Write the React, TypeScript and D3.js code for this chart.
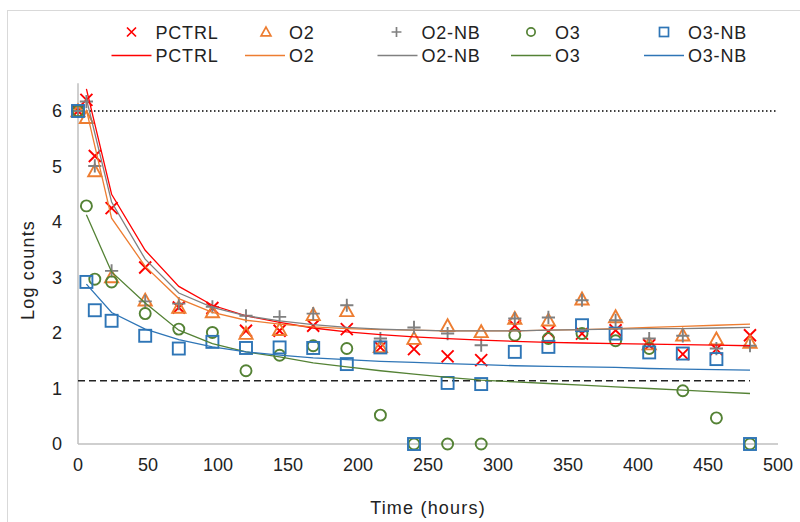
import React from "react";
import * as d3 from "d3";

// ---- data ----
const times = [0, 6, 12, 24, 48, 72, 96, 120, 144, 168, 192, 216, 240, 264, 288, 312, 336, 360, 384, 408, 432, 456, 480];
const pctrl = [6.0, 6.2, 5.19, 4.25, 3.18, 2.46, 2.45, 2.04, 2.04, 2.13, 2.07, 1.74, 1.71, 1.58, 1.51, 2.13, 2.02, 1.99, 2.05, 1.78, 1.62, 1.71, 1.96];
const o2 = [6.0, 5.88, 4.92, 3.01, 2.59, 2.46, 2.38, 1.99, 2.06, 2.33, 2.4, 1.75, 1.9, 2.13, 2.02, 2.26, 2.23, 2.61, 2.29, 1.8, 1.96, 1.89, 1.83];
const o2nb = [6.0, 6.17, 5.01, 3.12, 2.57, 2.53, 2.47, 2.31, 2.29, 2.35, 2.5, 1.9, 2.1, 1.99, 1.78, 2.26, 2.28, 2.59, 2.23, 1.9, 1.95, 1.72, 1.77];
const o3 = [6.0, 4.29, 2.97, 2.92, 2.35, 2.07, 2.01, 1.32, 1.6, 1.77, 1.72, 0.52, 0, 0, 0, 1.96, 1.9, 1.99, 1.86, 1.72, 0.96, 0.47, 0];
const o3nb = [6.0, 2.92, 2.41, 2.22, 1.95, 1.72, 1.84, 1.73, 1.74, 1.73, 1.44, 1.74, 0, 1.1, 1.08, 1.66, 1.75, 2.14, 1.99, 1.65, 1.63, 1.53, 0];

const fitTimes = [6, 24, 48, 72, 96, 120, 144, 168, 192, 216, 240, 264, 288, 312, 336, 360, 384, 408, 432, 456, 480];
const fitPctrl = [6.4, 4.5, 3.49, 2.84, 2.5, 2.31, 2.19, 2.09, 2.02, 1.97, 1.93, 1.9, 1.87, 1.85, 1.83, 1.82, 1.81, 1.8, 1.79, 1.78, 1.77];
const fitO2 = [6.02, 4.07, 3.2, 2.62, 2.37, 2.23, 2.16, 2.11, 2.08, 2.06, 2.05, 2.04, 2.04, 2.04, 2.05, 2.06, 2.08, 2.1, 2.12, 2.14, 2.16];
const fitO2nb = [6.22, 4.36, 3.33, 2.72, 2.46, 2.31, 2.22, 2.15, 2.1, 2.07, 2.05, 2.04, 2.04, 2.04, 2.05, 2.06, 2.07, 2.08, 2.08, 2.09, 2.1];
const fitO3 = [4.13, 3.1, 2.54, 2.05, 1.81, 1.66, 1.57, 1.46, 1.39, 1.32, 1.26, 1.2, 1.15, 1.12, 1.09, 1.06, 1.03, 1.0, 0.97, 0.94, 0.91];
const fitO3nb = [2.88, 2.37, 2.07, 1.88, 1.75, 1.66, 1.6, 1.55, 1.52, 1.49, 1.47, 1.45, 1.43, 1.41, 1.4, 1.39, 1.38, 1.36, 1.35, 1.34, 1.33];

const upperLimit = [6, 6];
const upperLimitTimes = [0, 500];
const lowerLimit = [1.14, 1.14];
const lowerLimitTimes = [0, 480];

const xTicks = [0, 50, 100, 150, 200, 250, 300, 350, 400, 450, 500];
const yTicks = [0, 1, 2, 3, 4, 5, 6];

const seriesNames = ["PCTRL", "O2", "O2-NB", "O3", "O3-NB"];
const seriesColors = ["#ff0000", "#ed7d31", "#808080", "#548235", "#2e75b6"];
const seriesShapes = ["x", "tri", "plus", "circle", "square"];
const seriesValues = [pctrl, o2, o2nb, o3, o3nb];
const fitValues = [fitPctrl, fitO2, fitO2nb, fitO3, fitO3nb];

const FONT = "'Liberation Sans', Arial, sans-serif";

function Marker({ shape, cx, cy, s, color, sw }: { shape: string; cx: number; cy: number; s: number; color: string; sw: number }) {
  const h = s / 2;
  if (shape === "x") {
    return <path d={`M${cx - h},${cy - h}L${cx + h},${cy + h}M${cx - h},${cy + h}L${cx + h},${cy - h}`} stroke={color} strokeWidth={sw} fill="none" />;
  }
  if (shape === "plus") {
    const p = h * 1.1;
    return <path d={`M${cx - p},${cy}L${cx + p},${cy}M${cx},${cy - p}L${cx},${cy + p}`} stroke={color} strokeWidth={sw} fill="none" />;
  }
  if (shape === "tri") {
    const t = h * 1.1;
    return <path d={`M${cx},${cy - t}L${cx + t},${cy + t * 0.8}L${cx - t},${cy + t * 0.8}Z`} stroke={color} strokeWidth={sw} fill="none" />;
  }
  if (shape === "circle") {
    return <circle cx={cx} cy={cy} r={h * 0.92} stroke={color} strokeWidth={sw} fill="none" />;
  }
  return <rect x={cx - h} y={cy - h} width={s} height={s} stroke={color} strokeWidth={sw} fill="none" />;
}

export default function App() {
  const W = 800;
  const H = 522;
  const x = d3.scaleLinear().domain([0, 500]).range([78, 778]);
  const y = d3.scaleLinear().domain([0, 6.5]).range([444, 83.25]);

  const line = d3
    .line<[number, number]>()
    .x((d) => x(d[0]))
    .y((d) => y(d[1]));

  const legendMarkerX = [131.5, 266, 396.5, 531, 664];
  const legendTextX = [155.5, 289, 421.5, 555, 688];

  return (
    <svg width={W} height={H} style={{ position: "absolute", left: 0, top: 0, background: "#fff" }} fontFamily={FONT}>
      <rect x={0} y={0} width={W} height={H} fill="#fff" />
      <rect x={7.5} y={10.5} width={800} height={520} fill="none" stroke="#d9d9d9" strokeWidth={1} />

      {/* axes */}
      <line x1={x(0)} x2={x(0)} y1={y(6.5)} y2={y(0)} stroke="#bfbfbf" strokeWidth={1.5} />
      <line x1={x(0)} x2={x(500)} y1={y(0)} y2={y(0)} stroke="#bfbfbf" strokeWidth={1.5} />

      {yTicks.map((t) => (
        <text key={"y" + t} x={62} y={y(t)} dy="0.36em" textAnchor="end" fontSize={18} fill="#222">
          {t}
        </text>
      ))}
      {xTicks.map((t) => (
        <text key={"x" + t} x={x(t)} y={465} dy="0.36em" textAnchor="middle" fontSize={18} fill="#222">
          {t}
        </text>
      ))}
      <text x={428} y={508} dy="0.36em" textAnchor="middle" fontSize={18} letterSpacing={1.2} fill="#222">
        Time (hours)
      </text>
      <text transform={`translate(34,270) rotate(-90)`} textAnchor="middle" fontSize={18} letterSpacing={1.2} fill="#222">
        Log counts
      </text>

      {/* reference lines */}
      <path
        d={line(upperLimitTimes.map((t, i) => [t, upperLimit[i]]) as [number, number][]) || ""}
        stroke="#000"
        strokeWidth={1.5}
        strokeDasharray="1.5,2.5"
        fill="none"
      />
      <path
        d={line(lowerLimitTimes.map((t, i) => [t, lowerLimit[i]]) as [number, number][]) || ""}
        stroke="#222"
        strokeWidth={1.5}
        strokeDasharray="7,4"
        fill="none"
      />

      {/* markers */}
      {seriesValues.map((vals, si) => (
        <g key={"s" + si}>
          {vals.map((v, i) => (
            <Marker key={i} shape={seriesShapes[si]} cx={x(times[i])} cy={y(v)} s={12} color={seriesColors[si]} sw={1.9} />
          ))}
        </g>
      ))}

      {/* fitted lines */}
      {fitValues.map((vals, si) => (
        <path
          key={"f" + si}
          d={line(fitTimes.map((t, i) => [t, vals[i]]) as [number, number][]) || ""}
          stroke={seriesColors[si]}
          strokeWidth={1.3}
          fill="none"
        />
      ))}

      {/* legend */}
      {seriesNames.map((n, i) => (
        <g key={"l" + i}>
          <Marker shape={seriesShapes[i]} cx={legendMarkerX[i]} cy={32} s={9} color={seriesColors[i]} sw={1.7} />
          <text x={legendTextX[i]} y={38.5} fontSize={18} letterSpacing={0.8} fill="#222">
            {n}
          </text>
          <line x1={legendTextX[i] - 44} x2={legendTextX[i] - 4} y1={55.5} y2={55.5} stroke={seriesColors[i]} strokeWidth={1.3} />
          <text x={legendTextX[i]} y={61.5} fontSize={18} letterSpacing={0.8} fill="#222">
            {n}
          </text>
        </g>
      ))}
    </svg>
  );
}
